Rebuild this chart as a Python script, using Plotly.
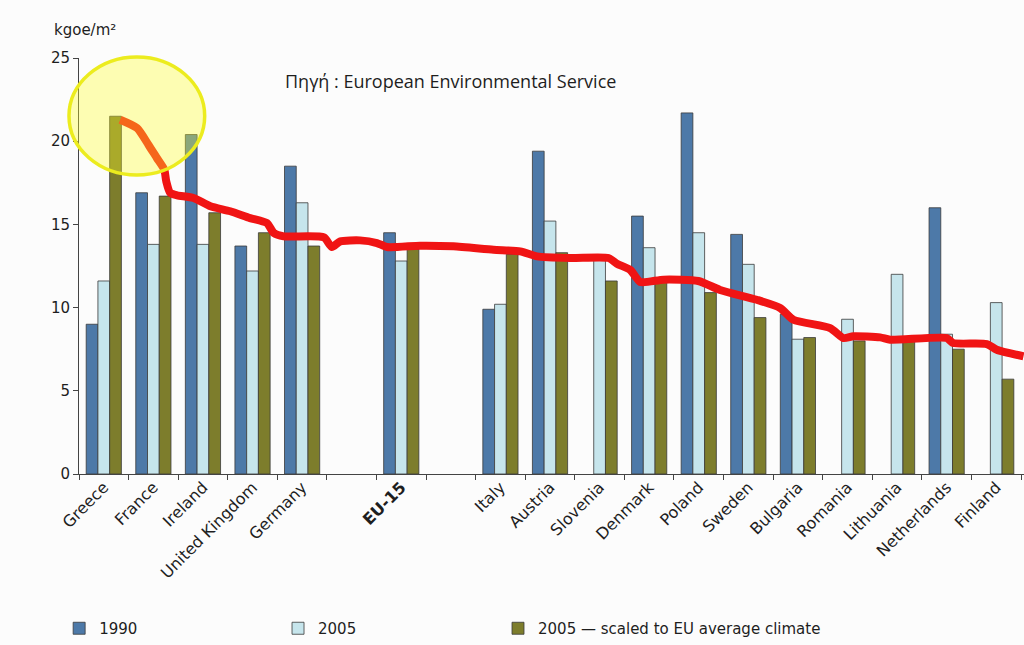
import plotly.graph_objects as go

# ---- data ----
categories = ["Greece", "France", "Ireland", "United Kingdom", "Germany", "",
              "EU-15", "", "Italy", "Austria", "Slovenia", "Denmark", "Poland",
              "Sweden", "Bulgaria", "Romania", "Lithuania", "Netherlands", "Finland"]
v1990 = [9.0, 16.9, 20.4, 13.7, 18.5, None, 14.5, None, 9.9, 19.4, None,
         15.5, 21.7, 14.4, 9.6, None, None, 16.0, None]
v2005 = [11.6, 13.8, 13.8, 12.2, 16.3, None, 12.8, None, 10.2, 15.2, 12.9,
         13.6, 14.5, 12.6, 8.1, 9.3, 12.0, 8.4, 10.3]
v2005_scaled = [21.5, 16.7, 15.7, 14.5, 13.7, None, 13.5, None, 13.2, 13.3, 11.6,
                11.6, 10.9, 9.4, 8.2, 8.0, 8.0, 7.5, 5.7]
series_names = ["1990", "2005", "2005 \u2014 scaled to EU average climate"]

# hand-drawn red trend line (x in category index units, y in kgoe/m2)
red_x = [0.33, 0.67, 0.90, 1.07, 1.22, 1.26, 1.34, 1.48, 1.81, 2.15, 2.55, 2.95,
         3.29, 3.43, 3.63, 4.44, 4.60, 4.77, 5.17, 5.51, 5.71, 6.38, 7.05, 7.86,
         8.40, 8.74, 9.41, 10.18, 10.35, 10.62, 10.82, 11.29, 11.99, 12.43, 13.17,
         13.64, 13.91, 14.65, 14.92, 15.12, 15.66, 15.86, 17.00, 17.13, 17.81,
         18.01, 18.55]
red_y = [21.29, 20.79, 19.79, 18.99, 18.29, 17.59, 16.89, 16.75, 16.59, 16.09,
         15.79, 15.38, 15.08, 14.48, 14.28, 14.22, 13.64, 13.98, 14.04, 13.88,
         13.64, 13.72, 13.68, 13.48, 13.38, 13.08, 12.98, 12.98, 12.64, 12.26,
         11.54, 11.68, 11.60, 11.06, 10.47, 9.98, 9.27, 8.77, 8.17, 8.28, 8.21,
         8.07, 8.17, 7.87, 7.81, 7.47, 7.07]

# ---- figure ----
colors = ["#4d79a8", "#c6e5ec", "#7d7d2c"]
pos = list(range(len(categories)))
labels = ["<b>EU-15</b>" if c == "EU-15" else c for c in categories]
legend_ids = ["legend", "legend2", "legend3"]
legend_x = [-0.021, 0.2106, 0.4434]

fig = go.Figure()
for name, vals, col, lg in zip(series_names, [v1990, v2005, v2005_scaled],
                               colors, legend_ids):
    fig.add_trace(go.Bar(x=pos, y=vals, name=name, marker_color=col,
                         marker_line_color="#3a3a3a", marker_line_width=0.8,
                         legend=lg))

fig.add_trace(go.Scatter(x=red_x, y=red_y, mode="lines", showlegend=False,
                         line=dict(color="#f01414", width=8, shape="spline",
                                   smoothing=0.6)))

# yellow highlight ellipse (paper coordinates so it is not clipped)
fig.add_shape(type="circle", xref="paper", yref="paper",
              x0=-0.0106, x1=0.133, y0=0.7188, y1=1.0024,
              line=dict(color="#ecec1e", width=3.5),
              fillcolor="rgba(255,255,40,0.35)", layer="above")

xr = [-0.5, 18.56]
tick_font = dict(family="DejaVu Sans", size=15, color="#1e1e1e")
leg_font = dict(family="DejaVu Sans", size=15, color="#1e1e1e")

legends = {}
for lg, lx in zip(legend_ids, legend_x):
    legends[lg] = dict(orientation="h", x=lx, xanchor="left", y=-0.372,
                       yanchor="middle", font=leg_font,
                       bgcolor="rgba(0,0,0,0)", itemwidth=30)

fig.update_layout(
    width=1024, height=645,
    margin=dict(l=79, r=0, t=58, b=170),
    paper_bgcolor="#fcfcfc", plot_bgcolor="#fcfcfc",
    barmode="group", bargap=0.29, bargroupgap=0,
    xaxis=dict(range=xr, tickmode="array",
               tickvals=[i - 0.5 for i in range(len(categories) + 1)],
               ticktext=["" for _ in range(len(categories) + 1)],
               ticks="outside", ticklen=5, tickcolor="#444",
               showline=True, linecolor="#444", linewidth=1,
               showgrid=False, zeroline=False),
    xaxis2=dict(range=xr, overlaying="x", anchor="y", side="bottom",
                tickmode="array", tickvals=pos, ticktext=labels,
                tickangle=-45, ticks="", showline=False, showgrid=False,
                zeroline=False, tickfont=dict(family="DejaVu Sans", size=16,
                                              color="#1e1e1e")),
    yaxis=dict(range=[0, 25], tickvals=[0, 5, 10, 15, 20, 25],
               ticks="outside", ticklen=5, tickcolor="#444",
               showline=True, linecolor="#444", linewidth=1,
               showgrid=False, zeroline=False, tickfont=tick_font),
    showlegend=True,
    **legends,
)

# dummy trace for the label axis
fig.add_trace(go.Scatter(x=[None], y=[None], xaxis="x2", showlegend=False))

fig.add_annotation(text="kgoe/m\u00b2", xref="paper", yref="paper",
                   x=-0.029, y=1.068, xanchor="left", yanchor="middle",
                   showarrow=False,
                   font=dict(family="DejaVu Sans", size=15, color="#1e1e1e"))
fig.add_annotation(text="\u03a0\u03b7\u03b3\u03ae : European Environmental Service",
                   xref="paper", yref="paper", x=0.216, y=0.944,
                   xanchor="left", yanchor="middle", showarrow=False,
                   font=dict(family="Open Sans", size=18, color="#1e1e1e"))

fig.write_html("out.html",
               config={"displayModeBar": False},
               post_script="document.body.style.margin='0px';"
                           "document.body.style.background='#fcfcfc';")
